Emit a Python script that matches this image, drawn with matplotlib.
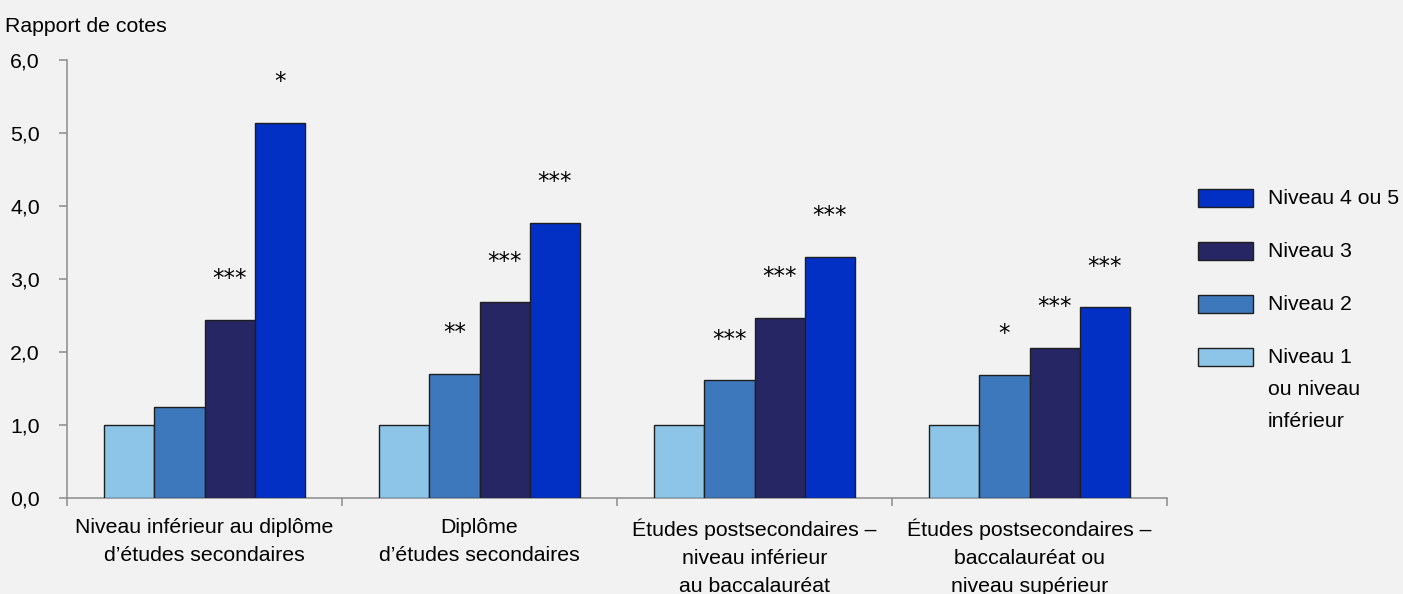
import matplotlib.pyplot as plt
import numpy as np

# data
categories = ["Niveau inférieur au diplôme\nd’études secondaires",
              "Diplôme\nd’études secondaires",
              "Études postsecondaires –\nniveau inférieur\nau baccalauréat",
              "Études postsecondaires –\nbaccalauréat ou\nniveau supérieur"]
series_names = ["Niveau 1\nou niveau\ninférieur", "Niveau 2", "Niveau 3", "Niveau 4 ou 5"]
niveau1 = [1.0, 1.0, 1.0, 1.0]
niveau2 = [1.25, 1.70, 1.61, 1.69]
niveau3 = [2.44, 2.68, 2.47, 2.06]
niveau45 = [5.14, 3.77, 3.30, 2.61]
stars2 = ["", "**", "***", "*"]
stars3 = ["***", "***", "***", "***"]
stars45 = ["*", "***", "***", "***"]
yticks = [0, 1, 2, 3, 4, 5, 6]
ytick_labels = ["0,0", "1,0", "2,0", "3,0", "4,0", "5,0", "6,0"]

colors = ["#8DC5E8", "#3E78BC", "#262664", "#0330C4"]
bg = "#F2F2F2"
axis_grey = "#8C8C8C"

plt.rcParams['font.family'] = ['Liberation Sans', 'DejaVu Sans']
fs = 15.3

fig = plt.figure(figsize=(14.03, 5.94), dpi=100, facecolor=bg)
ax = fig.add_axes([67 / 1403, 1 - 498 / 594, 1100 / 1403, 438 / 594])
ax.set_facecolor(bg)

x = np.arange(len(categories))
w = 0.182
values = [niveau1, niveau2, niveau3, niveau45]
all_stars = [None, stars2, stars3, stars45]
bars = []
for i, vals in enumerate(values):
    pos = x + (i - 1.5) * w
    b = ax.bar(pos, vals, width=w, color=colors[i], edgecolor="#1E1E1E",
               linewidth=1.0, label=series_names[i], zorder=3)
    bars.append(b)
    if all_stars[i] is not None:
        for px, v, s in zip(pos, vals, all_stars[i]):
            if s:
                ax.annotate(s, xy=(px, v), xytext=(0, 25), textcoords="offset points",
                            ha="center", va="baseline", fontsize=16.5,
                            family="DejaVu Sans", color="black")

ax.set_xlim(-0.5, len(categories) - 0.5)
ax.set_ylim(0, 6)
ax.set_yticks(yticks)
ax.set_yticklabels(ytick_labels)

ax.set_xticks(np.arange(len(categories) + 1) - 0.5)
ax.set_xticklabels([])
ax.set_xticks(x, minor=True)
ax.set_xticklabels(categories, minor=True, fontsize=fs, linespacing=1.62)
ax.tick_params(axis="x", which="minor", length=0, pad=14.5)
ax.tick_params(axis="x", which="major", length=5.5, width=1.1, color=axis_grey)
ax.tick_params(axis="y", length=5.5, width=1.1, color=axis_grey, labelsize=fs, pad=14)

for side in ["top", "right"]:
    ax.spines[side].set_visible(False)
for side in ["left", "bottom"]:
    ax.spines[side].set_color(axis_grey)
    ax.spines[side].set_linewidth(1.1)

fig.text(5 / 1403, 1 - 27 / 594, "Rapport de cotes", fontsize=fs, ha="left", va="center")

handles = bars[::-1]
labels = series_names[::-1]
leg = ax.legend(handles, labels, loc="upper left",
                bbox_to_anchor=(1198 / 1403, 1 - 189 / 594),
                bbox_transform=fig.transFigure, frameon=False, fontsize=fs,
                handlelength=2.58, handleheight=0.94, handletextpad=0.7,
                labelspacing=1.6, borderpad=0, borderaxespad=0)
for t in leg.get_texts():
    t.set_linespacing(1.86)
for col in leg._legend_handle_box.get_children():
    for row in col.get_children():
        row.align = "top"

fig.savefig("out.png", dpi=100, facecolor=bg)
